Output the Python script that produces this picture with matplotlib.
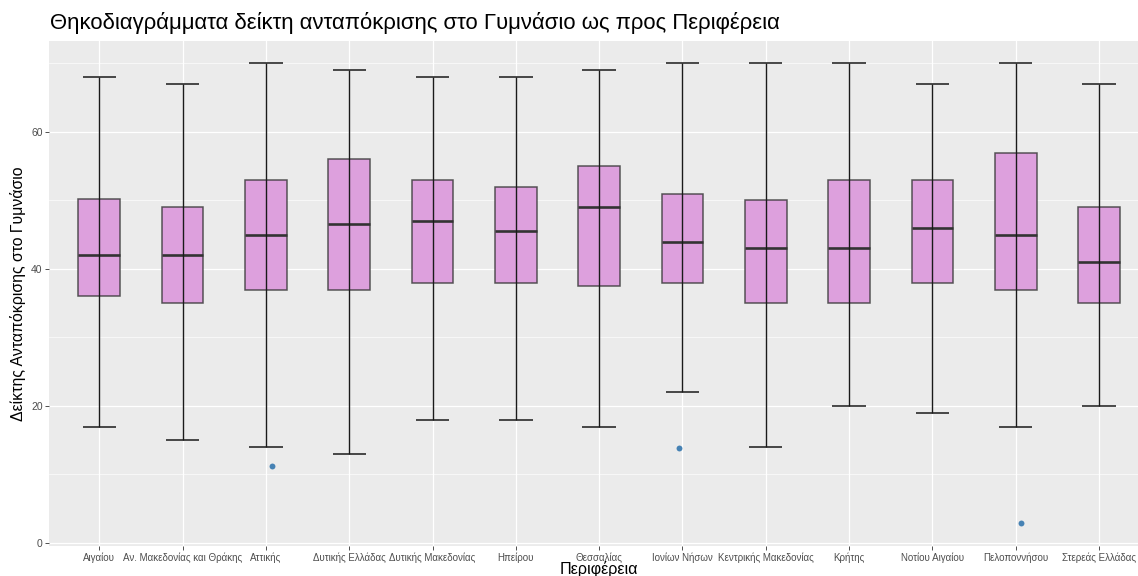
import numpy as np
import matplotlib
matplotlib.use("Agg")
import matplotlib.pyplot as plt
from matplotlib.ticker import MultipleLocator

plt.rcParams['font.family'] = ['Liberation Sans', 'DejaVu Sans']

# ---------------------------------------------------------------
# Data
# ---------------------------------------------------------------
regions = ["Αιγαίου", "Αν. Μακεδονίας και Θράκης", "Αττικής", "Δυτικής Ελλάδας",
           "Δυτικής Μακεδονίας", "Ηπείρου", "Θεσσαλίας", "Ιονίων Νήσων",
           "Κεντρικής Μακεδονίας", "Κρήτης", "Νοτίου Αιγαίου", "Πελοποννήσου",
           "Στερεάς Ελλάδας"]
whisk_lo = [17, 15, 14, 13, 18, 18, 17, 22, 14, 20, 19, 17, 20]
q1       = [36, 35, 37, 37, 38, 38, 37.5, 38, 35, 35, 38, 37, 35]
median   = [42, 42, 45, 46.5, 47, 45.5, 49, 44, 43, 43, 46, 45, 41]
q3       = [50.25, 49, 53, 56, 53, 52, 55, 51, 50, 53, 53, 57, 49]
whisk_hi = [68, 67, 70, 69, 68, 68, 69, 70, 70, 70, 67, 70, 67]

# outliers: (region index, value, small horizontal jitter)
outlier_idx = [2, 7, 11]
outlier_val = [11.3, 13.8, 2.9]
outlier_dx  = [0.07, -0.04, 0.06]

# ---------------------------------------------------------------
# Figure
# ---------------------------------------------------------------
W, H = 1138, 576
fig = plt.figure(figsize=(W / 100, H / 100), dpi=100)

# panel in pixels (ggplot-like panel, slightly wider than the figure)
px_left, px_right, px_top, px_bottom = 49.3, 1149.0, 40.5, 546.1
ax = fig.add_axes([px_left / W, 1 - px_bottom / H,
                   (px_right - px_left) / W, (px_bottom - px_top) / H])

pos = np.arange(len(regions))
stats = []
for i in range(len(regions)):
    stats.append(dict(med=median[i], q1=q1[i], q3=q3[i],
                      whislo=q1[i], whishi=q3[i], fliers=[]))

ax.bxp(stats, positions=pos, widths=0.5, patch_artist=True,
       showcaps=False, showfliers=False,
       boxprops=dict(facecolor='#DDA0DD', edgecolor=(0.2, 0.2, 0.2, 0.8), linewidth=1.1),
       medianprops=dict(color='#333333', linewidth=1.9, solid_capstyle='butt'),
       whiskerprops=dict(linewidth=0),
       zorder=2)

# error bars across the full whisker range
ax.vlines(pos, whisk_lo, whisk_hi, color='#1a1a1a', linewidth=1.0, zorder=3)
ax.hlines(whisk_lo, pos - 0.2, pos + 0.2, color='#1a1a1a', linewidth=1.1, zorder=3)
ax.hlines(whisk_hi, pos - 0.2, pos + 0.2, color='#1a1a1a', linewidth=1.1, zorder=3)

ox = np.array(outlier_idx) + np.array(outlier_dx)
ax.scatter(ox, outlier_val, s=18, color='#4682B4', zorder=4, linewidths=0)

# scales
ymin = min(min(whisk_lo), min(outlier_val))
ymax = max(whisk_hi)
pad = (ymax - ymin) * 0.05
ax.set_ylim(ymin - pad, ymax + pad)
ax.set_xlim(-0.6, len(regions) - 0.4)

ax.set_facecolor('#EBEBEB')
for s in ax.spines.values():
    s.set_visible(False)
ax.yaxis.set_major_locator(MultipleLocator(20))
ax.yaxis.set_minor_locator(MultipleLocator(10))
ax.set_xticks(pos)
ax.set_xticklabels(regions)
ax.grid(which='major', color='white', linewidth=0.9, zorder=0)
ax.grid(which='minor', axis='y', color='white', linewidth=0.45, zorder=0)
ax.set_axisbelow(True)
ax.tick_params(which='major', length=2.75, width=0.6, color='#333333',
               labelcolor='#4D4D4D', pad=2)
ax.tick_params(which='minor', length=0)
ax.tick_params(axis='x', labelsize=7)
ax.tick_params(axis='y', labelsize=7.5)

ax.set_xlabel("Περιφέρεια", fontsize=11.6, labelpad=-1.5)
ax.set_ylabel("Δείκτης Ανταπόκρισης στο Γυμνάσιο", fontsize=11.4, labelpad=4)
fig.text(50 / W, 1 - 29 / H, "Θηκοδιαγράμματα δείκτη ανταπόκρισης στο Γυμνάσιο ως προς Περιφέρεια",
         fontsize=15.9, ha='left', va='baseline')

fig.savefig("out.png", dpi=100, facecolor='white')
